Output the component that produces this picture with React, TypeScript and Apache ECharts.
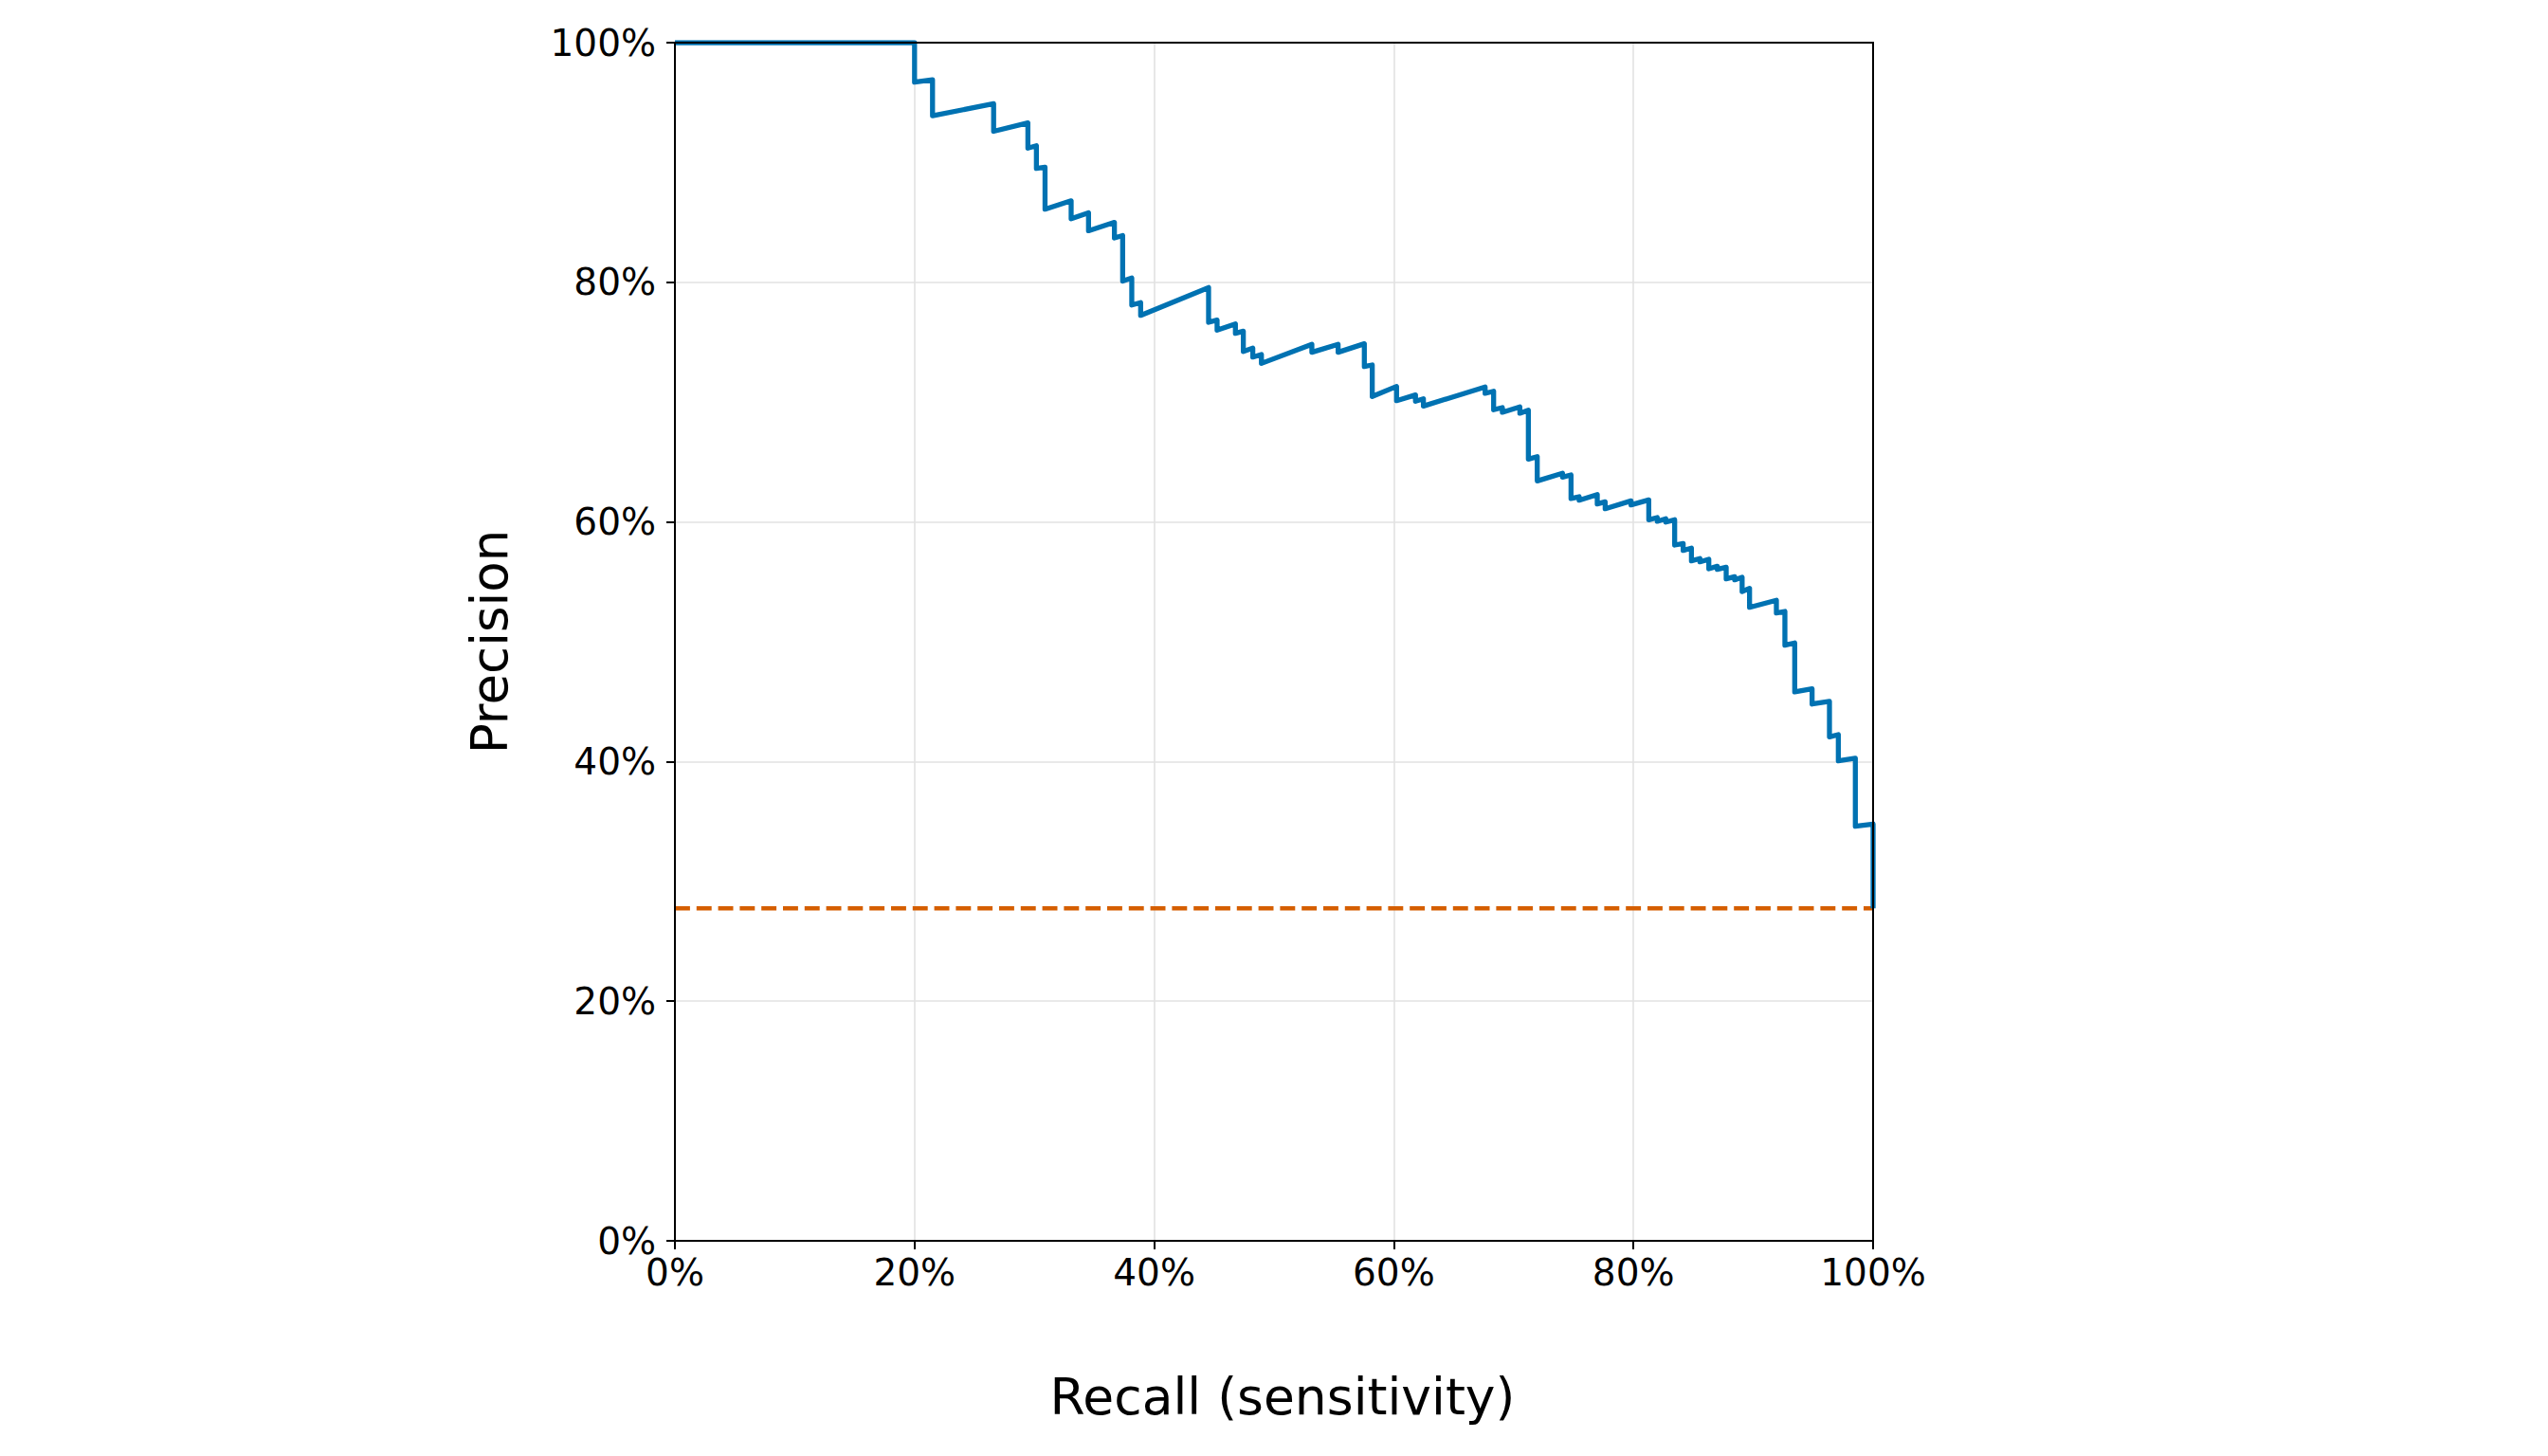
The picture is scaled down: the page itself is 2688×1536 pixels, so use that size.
import React, { useEffect, useRef } from "react";
import * as echarts from "echarts";

// Precision-recall curve vertices (recall, precision)
const recall = [
  0, 0.2, 0.2, 0.215, 0.215, 0.266, 0.266, 0.2946, 0.2946, 0.3017,
  0.3017, 0.3089, 0.3089, 0.3307, 0.3307, 0.3452, 0.3452, 0.3668, 0.3668, 0.3737,
  0.3737, 0.3813, 0.3813, 0.3887, 0.3887, 0.4454, 0.4454, 0.4525, 0.4525, 0.4678,
  0.4678, 0.4744, 0.4744, 0.4823, 0.4823, 0.4895, 0.4895, 0.5316, 0.5316, 0.5535,
  0.5535, 0.5754, 0.5754, 0.582, 0.582, 0.6023, 0.6023, 0.6181, 0.6181, 0.6247,
  0.6247, 0.6762, 0.6762, 0.6833, 0.6833, 0.6906, 0.6906, 0.7052, 0.7052, 0.7123,
  0.7123, 0.7197, 0.7197, 0.7408, 0.7408, 0.7479, 0.7479, 0.7547, 0.7547, 0.7698,
  0.7698, 0.7764, 0.7764, 0.798, 0.798, 0.8128, 0.8128, 0.8199, 0.8199, 0.827,
  0.827, 0.8344, 0.8344, 0.8415, 0.8415, 0.8484, 0.8484, 0.8555, 0.8555, 0.8629,
  0.8629, 0.87, 0.87, 0.8774, 0.8774, 0.8845, 0.8845, 0.8907, 0.8907, 0.8969,
  0.8969, 0.9193, 0.9193, 0.9264, 0.9264, 0.9346, 0.9346, 0.9491, 0.9491, 0.9636,
  0.9636, 0.971, 0.971, 0.9852, 0.9852, 1.0, 1.0,
];
const precision = [
  1.0, 1.0, 0.967, 0.969, 0.939, 0.949, 0.926, 0.933, 0.912, 0.914,
  0.895, 0.896, 0.861, 0.868, 0.853, 0.858, 0.843, 0.85, 0.837, 0.839,
  0.801, 0.8036, 0.781, 0.783, 0.7724, 0.7956, 0.7666, 0.7685, 0.76, 0.7653,
  0.7574, 0.7592, 0.7423, 0.745, 0.7376, 0.7397, 0.7323, 0.7482, 0.7416, 0.7482,
  0.7416, 0.7487, 0.7297, 0.731, 0.7047, 0.7131, 0.7012, 0.706, 0.7007, 0.7028,
  0.6967, 0.7126, 0.7073, 0.7091, 0.6936, 0.6954, 0.6915, 0.696, 0.6907, 0.6933,
  0.6524, 0.6545, 0.6342, 0.6406, 0.6374, 0.6392, 0.6195, 0.621, 0.6181, 0.6229,
  0.615, 0.6168, 0.611, 0.6176, 0.6142, 0.6184, 0.6018, 0.6036, 0.6005, 0.6026,
  0.5999, 0.6018, 0.5807, 0.582, 0.5762, 0.5781, 0.5675, 0.5694, 0.5667, 0.5688,
  0.5609, 0.563, 0.5604, 0.5622, 0.5525, 0.5543, 0.5517, 0.5538, 0.5419, 0.5446,
  0.5287, 0.5346, 0.524, 0.5253, 0.4971, 0.499, 0.4581, 0.4607, 0.448, 0.4502,
  0.4206, 0.4225, 0.4006, 0.4027, 0.346, 0.3479, 0.2775,
];
// Baseline (prevalence) shown as the dashed line
const baselineRecall = [0, 1];
const baselinePrecision = [0.2775, 0.2775];

const xAxisTitle = "Recall (sensitivity)";
const yAxisTitle = "Precision";

const GRID_LEFT = 712;
const GRID_TOP = 45;
const GRID_W = 1264;
const GRID_H = 1264;
const FONT = "DejaVu Sans";

const pct = (v: number) => `${Math.round(v * 100)}%`;

export default function App() {
  const ref = useRef<HTMLDivElement>(null);
  useEffect(() => {
    if (!ref.current) return;
    const chart = echarts.init(ref.current, undefined, { renderer: "svg" });
    const curve = recall.map((r, i) => [r, precision[i]]);
    const base = baselineRecall.map((r, i) => [r, baselinePrecision[i]]);
    const axisCommon = {
      type: "value" as const,
      min: 0,
      max: 1,
      interval: 0.2,
      axisLine: { show: false },
      axisTick: { show: true, inside: false, length: 9, lineStyle: { color: "#000", width: 2 } },
      splitLine: { show: true, lineStyle: { color: "#e2e2e2", width: 1.6 } },
    };
    chart.setOption({
      animation: false,
      backgroundColor: "#fff",
      grid: { left: GRID_LEFT, top: GRID_TOP, width: GRID_W, height: GRID_H, containLabel: false },
      xAxis: {
        ...axisCommon,
        position: "bottom",
        name: xAxisTitle,
        nameLocation: "middle",
        nameGap: 137,
        nameTextStyle: { fontFamily: FONT, fontSize: 53.5, color: "#000", padding: [0, 0, 0, 18] },
        axisLabel: {
          formatter: pct,
          fontFamily: FONT,
          fontSize: 39,
          color: "#000",
          margin: 14,
          showMinLabel: true,
          showMaxLabel: true,
        },
      },
      yAxis: {
        ...axisCommon,
        position: "left",
        name: yAxisTitle,
        nameLocation: "middle",
        nameRotate: 90,
        nameGap: 169,
        nameTextStyle: { fontFamily: FONT, fontSize: 53, color: "#000" },
        axisLabel: {
          formatter: pct,
          fontFamily: FONT,
          fontSize: 39,
          color: "#000",
          margin: 20,
          showMinLabel: true,
          showMaxLabel: true,
        },
      },
      series: [
        {
          type: "line",
          data: base,
          showSymbol: false,
          symbol: "none",
          silent: true,
          lineStyle: { color: "#D55E00", width: 4.3, type: [15.9, 6.9] },
          z: 2,
        },
        {
          type: "line",
          data: curve,
          showSymbol: false,
          symbol: "none",
          silent: true,
          clip: true,
          lineStyle: { color: "#0072B2", width: 5.3, join: "round" },
          z: 3,
        },
      ],
      graphic: [
        {
          type: "rect",
          silent: true,
          z: 100,
          shape: { x: GRID_LEFT, y: GRID_TOP, width: GRID_W, height: GRID_H },
          style: { fill: "none", stroke: "#000", lineWidth: 2 },
        },
      ],
    });
    return () => chart.dispose();
  }, []);
  return (
    <div
      ref={ref}
      style={{ position: "absolute", left: 0, top: 0, width: 2688, height: 1536, background: "#fff" }}
    />
  );
}
